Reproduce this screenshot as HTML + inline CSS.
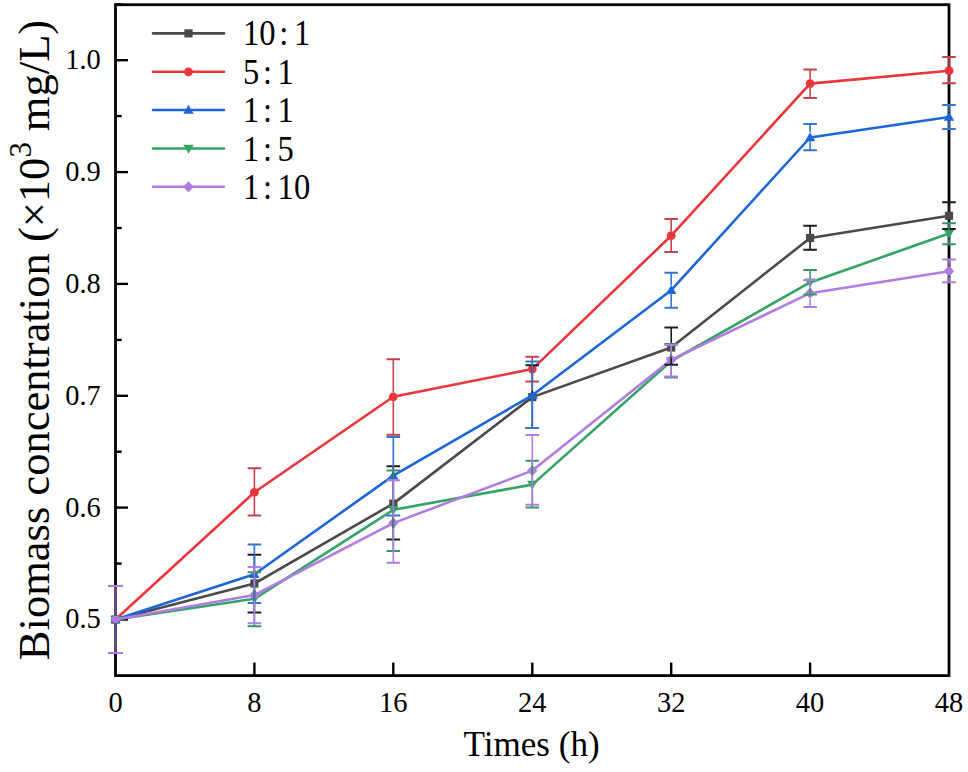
<!DOCTYPE html>
<html><head><meta charset="utf-8"><style>
html,body{margin:0;padding:0;background:#fff;}
svg{display:block;}
text{font-family:"Liberation Serif",serif;fill:#000;}
.t{font-size:30px;}
.lg{font-size:35px;}
.xt{font-size:35.1px;}
.yt{font-size:45px;}
</style></head><body>
<svg width="968" height="772" viewBox="0 0 968 772">
<rect width="968" height="772" fill="#fff"/>
<path d="M254.4,675.6V662.6" stroke="#000" stroke-width="2.4"/>
<path d="M393.3,675.6V662.6" stroke="#000" stroke-width="2.4"/>
<path d="M532.3,675.6V662.6" stroke="#000" stroke-width="2.4"/>
<path d="M671.2,675.6V662.6" stroke="#000" stroke-width="2.4"/>
<path d="M810.1,675.6V662.6" stroke="#000" stroke-width="2.4"/>
<path d="M115.5,619.5H128.0" stroke="#000" stroke-width="2.4"/>
<path d="M115.5,563.6H121.7" stroke="#000" stroke-width="2.4"/>
<path d="M115.5,507.6H128.0" stroke="#000" stroke-width="2.4"/>
<path d="M115.5,451.7H121.7" stroke="#000" stroke-width="2.4"/>
<path d="M115.5,395.8H128.0" stroke="#000" stroke-width="2.4"/>
<path d="M115.5,339.9H121.7" stroke="#000" stroke-width="2.4"/>
<path d="M115.5,283.9H128.0" stroke="#000" stroke-width="2.4"/>
<path d="M115.5,228.0H121.7" stroke="#000" stroke-width="2.4"/>
<path d="M115.5,172.1H128.0" stroke="#000" stroke-width="2.4"/>
<path d="M115.5,116.1H121.7" stroke="#000" stroke-width="2.4"/>
<path d="M115.5,60.2H128.0" stroke="#000" stroke-width="2.4"/>
<path d="M115.5,4.3H121.7" stroke="#000" stroke-width="2.4"/>
<rect x="115.5" y="4.7" width="833.5" height="670.9" fill="none" stroke="#000" stroke-width="2.8"/>
<polyline points="115.5,619.5 254.4,583.5 393.3,503.6 532.3,397.1 671.2,347.5 810.1,238.0 949.0,215.8" stroke="#4a4a4a" stroke-width="2.6" fill="none" stroke-linejoin="round"/>
<rect x="111.4" y="615.4" width="8.2" height="8.2" fill="#4a4a4a"/>
<rect x="250.3" y="579.4" width="8.2" height="8.2" fill="#4a4a4a"/>
<rect x="389.2" y="499.5" width="8.2" height="8.2" fill="#4a4a4a"/>
<rect x="528.2" y="393.0" width="8.2" height="8.2" fill="#4a4a4a"/>
<rect x="667.1" y="343.4" width="8.2" height="8.2" fill="#4a4a4a"/>
<rect x="806.0" y="233.9" width="8.2" height="8.2" fill="#4a4a4a"/>
<rect x="944.9" y="211.7" width="8.2" height="8.2" fill="#4a4a4a"/>
<polyline points="115.5,619.5 254.4,492.3 393.3,396.8 532.3,369.1 671.2,235.7 810.1,83.6 949.0,70.7" stroke="#e8363c" stroke-width="2.6" fill="none" stroke-linejoin="round"/>
<circle cx="115.5" cy="619.5" r="4.4" fill="#e8363c"/>
<circle cx="254.4" cy="492.3" r="4.4" fill="#e8363c"/>
<circle cx="393.3" cy="396.8" r="4.4" fill="#e8363c"/>
<circle cx="532.3" cy="369.1" r="4.4" fill="#e8363c"/>
<circle cx="671.2" cy="235.7" r="4.4" fill="#e8363c"/>
<circle cx="810.1" cy="83.6" r="4.4" fill="#e8363c"/>
<circle cx="949.0" cy="70.7" r="4.4" fill="#e8363c"/>
<polyline points="115.5,619.5 254.4,574.2 393.3,475.6 532.3,395.3 671.2,290.2 810.1,137.5 949.0,117.0" stroke="#1c66d8" stroke-width="2.6" fill="none" stroke-linejoin="round"/>
<path d="M115.5,614.3 L120.7,623.3 L110.3,623.3Z" fill="#1c66d8"/>
<path d="M254.4,569.0 L259.6,578.0 L249.2,578.0Z" fill="#1c66d8"/>
<path d="M393.3,470.4 L398.5,479.4 L388.1,479.4Z" fill="#1c66d8"/>
<path d="M532.3,390.1 L537.5,399.1 L527.1,399.1Z" fill="#1c66d8"/>
<path d="M671.2,285.0 L676.4,294.0 L666.0,294.0Z" fill="#1c66d8"/>
<path d="M810.1,132.3 L815.3,141.3 L804.9,141.3Z" fill="#1c66d8"/>
<path d="M949.0,111.8 L954.2,120.8 L943.8,120.8Z" fill="#1c66d8"/>
<polyline points="115.5,619.5 254.4,598.8 393.3,509.8 532.3,484.6 671.2,361.0 810.1,282.4 949.0,233.6" stroke="#33a463" stroke-width="2.6" fill="none" stroke-linejoin="round"/>
<path d="M115.5,624.7 L120.7,615.7 L110.3,615.7Z" fill="#33a463"/>
<path d="M254.4,604.0 L259.6,595.0 L249.2,595.0Z" fill="#33a463"/>
<path d="M393.3,515.0 L398.5,506.0 L388.1,506.0Z" fill="#33a463"/>
<path d="M532.3,489.8 L537.5,480.8 L527.1,480.8Z" fill="#33a463"/>
<path d="M671.2,366.2 L676.4,357.2 L666.0,357.2Z" fill="#33a463"/>
<path d="M810.1,287.6 L815.3,278.6 L804.9,278.6Z" fill="#33a463"/>
<path d="M949.0,238.8 L954.2,229.8 L943.8,229.8Z" fill="#33a463"/>
<polyline points="115.5,619.5 254.4,595.0 393.3,523.1 532.3,470.6 671.2,359.8 810.1,293.2 949.0,271.2" stroke="#b07ce2" stroke-width="2.6" fill="none" stroke-linejoin="round"/>
<path d="M115.5,613.9 L120.7,619.5 L115.5,625.1 L110.3,619.5Z" fill="#b07ce2"/>
<path d="M254.4,589.4 L259.6,595.0 L254.4,600.6 L249.2,595.0Z" fill="#b07ce2"/>
<path d="M393.3,517.5 L398.5,523.1 L393.3,528.7 L388.1,523.1Z" fill="#b07ce2"/>
<path d="M532.3,465.0 L537.5,470.6 L532.3,476.2 L527.1,470.6Z" fill="#b07ce2"/>
<path d="M671.2,354.2 L676.4,359.8 L671.2,365.4 L666.0,359.8Z" fill="#b07ce2"/>
<path d="M810.1,287.6 L815.3,293.2 L810.1,298.8 L804.9,293.2Z" fill="#b07ce2"/>
<path d="M949.0,265.6 L954.2,271.2 L949.0,276.8 L943.8,271.2Z" fill="#b07ce2"/>
<path d="M115.5,586.0V615.7M115.5,623.3V653.0" stroke="#5e4a7c" stroke-width="2.8" fill="none"/>
<path d="M108.7,586.0H122.3M108.7,653.0H122.3" stroke="#1e1e1e" stroke-width="2" fill="none"/>
<path d="M254.4,554.7V579.7M254.4,587.3V612.5" stroke="#1e1e1e" stroke-width="1.6" fill="none"/>
<path d="M247.6,554.7H261.2M247.6,612.5H261.2" stroke="#1e1e1e" stroke-width="2" fill="none"/>
<path d="M393.3,466.3V499.8M393.3,507.4V539.6" stroke="#1e1e1e" stroke-width="1.6" fill="none"/>
<path d="M386.5,466.3H400.1M386.5,539.6H400.1" stroke="#1e1e1e" stroke-width="2" fill="none"/>
<path d="M532.3,365.2V393.3M532.3,400.9V427.9" stroke="#1e1e1e" stroke-width="1.6" fill="none"/>
<path d="M525.5,365.2H539.1M525.5,427.9H539.1" stroke="#1e1e1e" stroke-width="2" fill="none"/>
<path d="M671.2,327.6V343.7M671.2,351.3V364.7" stroke="#1e1e1e" stroke-width="1.6" fill="none"/>
<path d="M664.4,327.6H678.0M664.4,364.7H678.0" stroke="#1e1e1e" stroke-width="2" fill="none"/>
<path d="M810.1,225.8V234.2M810.1,241.8V249.8" stroke="#1e1e1e" stroke-width="1.6" fill="none"/>
<path d="M803.3,225.8H816.9M803.3,249.8H816.9" stroke="#1e1e1e" stroke-width="2" fill="none"/>
<path d="M949.0,202.2V212.0M949.0,219.6V229.1" stroke="#1e1e1e" stroke-width="1.6" fill="none"/>
<path d="M942.2,202.2H955.8M942.2,229.1H955.8" stroke="#1e1e1e" stroke-width="2" fill="none"/>
<path d="M115.5,586.0V615.1M115.5,623.9V653.0" stroke="#5e4a7c" stroke-width="2.8" fill="none"/>
<path d="M108.7,586.0H122.3M108.7,653.0H122.3" stroke="#c3444c" stroke-width="2" fill="none"/>
<path d="M254.4,468.2V487.9M254.4,496.7V515.6" stroke="#c3444c" stroke-width="1.6" fill="none"/>
<path d="M247.6,468.2H261.2M247.6,515.6H261.2" stroke="#c3444c" stroke-width="2" fill="none"/>
<path d="M393.3,359.2V392.4M393.3,401.2V434.7" stroke="#c3444c" stroke-width="1.6" fill="none"/>
<path d="M386.5,359.2H400.1M386.5,434.7H400.1" stroke="#c3444c" stroke-width="2" fill="none"/>
<path d="M532.3,356.8V364.7M532.3,373.5V381.5" stroke="#c3444c" stroke-width="1.6" fill="none"/>
<path d="M525.5,356.8H539.1M525.5,381.5H539.1" stroke="#c3444c" stroke-width="2" fill="none"/>
<path d="M671.2,218.9V231.3M671.2,240.1V252.1" stroke="#c3444c" stroke-width="1.6" fill="none"/>
<path d="M664.4,218.9H678.0M664.4,252.1H678.0" stroke="#c3444c" stroke-width="2" fill="none"/>
<path d="M810.1,69.4V79.2M810.1,88.0V98.1" stroke="#c3444c" stroke-width="1.6" fill="none"/>
<path d="M803.3,69.4H816.9M803.3,98.1H816.9" stroke="#c3444c" stroke-width="2" fill="none"/>
<path d="M949.0,57.0V66.3M949.0,75.1V83.2" stroke="#c3444c" stroke-width="1.6" fill="none"/>
<path d="M942.2,57.0H955.8M942.2,83.2H955.8" stroke="#c3444c" stroke-width="2" fill="none"/>
<path d="M115.5,586.0V614.3M115.5,623.3V653.0" stroke="#5e4a7c" stroke-width="2.8" fill="none"/>
<path d="M108.7,586.0H122.3M108.7,653.0H122.3" stroke="#3575cf" stroke-width="2" fill="none"/>
<path d="M254.4,544.4V569.0M254.4,578.0V603.0" stroke="#3575cf" stroke-width="1.6" fill="none"/>
<path d="M247.6,544.4H261.2M247.6,603.0H261.2" stroke="#3575cf" stroke-width="2" fill="none"/>
<path d="M393.3,437.1V470.4M393.3,479.4V515.4" stroke="#3575cf" stroke-width="1.6" fill="none"/>
<path d="M386.5,437.1H400.1M386.5,515.4H400.1" stroke="#3575cf" stroke-width="2" fill="none"/>
<path d="M532.3,361.5V390.1M532.3,399.1V427.9" stroke="#3575cf" stroke-width="1.6" fill="none"/>
<path d="M525.5,361.5H539.1M525.5,427.9H539.1" stroke="#3575cf" stroke-width="2" fill="none"/>
<path d="M671.2,272.8V285.0M671.2,294.0V307.7" stroke="#3575cf" stroke-width="1.6" fill="none"/>
<path d="M664.4,272.8H678.0M664.4,307.7H678.0" stroke="#3575cf" stroke-width="2" fill="none"/>
<path d="M810.1,124.0V132.3M810.1,141.3V150.3" stroke="#3575cf" stroke-width="1.6" fill="none"/>
<path d="M803.3,124.0H816.9M803.3,150.3H816.9" stroke="#3575cf" stroke-width="2" fill="none"/>
<path d="M949.0,105.0V111.8M949.0,120.8V129.0" stroke="#3575cf" stroke-width="1.6" fill="none"/>
<path d="M942.2,105.0H955.8M942.2,129.0H955.8" stroke="#3575cf" stroke-width="2" fill="none"/>
<path d="M115.5,586.0V615.7M115.5,624.7V653.0" stroke="#5e4a7c" stroke-width="2.8" fill="none"/>
<path d="M108.7,586.0H122.3M108.7,653.0H122.3" stroke="#3d9565" stroke-width="2" fill="none"/>
<path d="M254.4,572.2V595.0M254.4,604.0V626.3" stroke="#3d9565" stroke-width="1.6" fill="none"/>
<path d="M247.6,572.2H261.2M247.6,626.3H261.2" stroke="#3d9565" stroke-width="2" fill="none"/>
<path d="M393.3,470.4V506.0M393.3,515.0V551.0" stroke="#3d9565" stroke-width="1.6" fill="none"/>
<path d="M386.5,470.4H400.1M386.5,551.0H400.1" stroke="#3d9565" stroke-width="2" fill="none"/>
<path d="M532.3,460.8V480.8M532.3,489.8V507.4" stroke="#3d9565" stroke-width="1.6" fill="none"/>
<path d="M525.5,460.8H539.1M525.5,507.4H539.1" stroke="#3d9565" stroke-width="2" fill="none"/>
<path d="M671.2,344.0V357.2M671.2,366.2V377.5" stroke="#3d9565" stroke-width="1.6" fill="none"/>
<path d="M664.4,344.0H678.0M664.4,377.5H678.0" stroke="#3d9565" stroke-width="2" fill="none"/>
<path d="M810.1,270.0V278.6M810.1,287.6V294.6" stroke="#3d9565" stroke-width="1.6" fill="none"/>
<path d="M803.3,270.0H816.9M803.3,294.6H816.9" stroke="#3d9565" stroke-width="2" fill="none"/>
<path d="M949.0,223.2V229.8M949.0,238.8V244.3" stroke="#3d9565" stroke-width="1.6" fill="none"/>
<path d="M942.2,223.2H955.8M942.2,244.3H955.8" stroke="#3d9565" stroke-width="2" fill="none"/>
<path d="M115.5,586.0V613.9M115.5,625.1V653.0" stroke="#5e4a7c" stroke-width="2.8" fill="none"/>
<path d="M108.7,586.0H122.3M108.7,653.0H122.3" stroke="#b07ce2" stroke-width="2" fill="none"/>
<path d="M254.4,567.0V589.4M254.4,600.6V623.3" stroke="#b07ce2" stroke-width="1.6" fill="none"/>
<path d="M247.6,567.0H261.2M247.6,623.3H261.2" stroke="#b07ce2" stroke-width="2" fill="none"/>
<path d="M393.3,480.3V517.5M393.3,528.7V562.8" stroke="#b07ce2" stroke-width="1.6" fill="none"/>
<path d="M386.5,480.3H400.1M386.5,562.8H400.1" stroke="#b07ce2" stroke-width="2" fill="none"/>
<path d="M532.3,434.9V465.0M532.3,476.2V504.8" stroke="#b07ce2" stroke-width="1.6" fill="none"/>
<path d="M525.5,434.9H539.1M525.5,504.8H539.1" stroke="#b07ce2" stroke-width="2" fill="none"/>
<path d="M671.2,345.0V354.2M671.2,365.4V376.5" stroke="#b07ce2" stroke-width="1.6" fill="none"/>
<path d="M664.4,345.0H678.0M664.4,376.5H678.0" stroke="#b07ce2" stroke-width="2" fill="none"/>
<path d="M810.1,280.0V287.6M810.1,298.8V307.0" stroke="#b07ce2" stroke-width="1.6" fill="none"/>
<path d="M803.3,280.0H816.9M803.3,307.0H816.9" stroke="#b07ce2" stroke-width="2" fill="none"/>
<path d="M949.0,259.5V265.6M949.0,276.8V282.2" stroke="#b07ce2" stroke-width="1.6" fill="none"/>
<path d="M942.2,259.5H955.8M942.2,282.2H955.8" stroke="#b07ce2" stroke-width="2" fill="none"/>
<text transform="translate(100.8,628.4) scale(0.95,1)" text-anchor="end" class="t">0.5</text>
<text transform="translate(100.8,516.5) scale(0.95,1)" text-anchor="end" class="t">0.6</text>
<text transform="translate(100.8,404.7) scale(0.95,1)" text-anchor="end" class="t">0.7</text>
<text transform="translate(100.8,292.8) scale(0.95,1)" text-anchor="end" class="t">0.8</text>
<text transform="translate(100.8,181.0) scale(0.95,1)" text-anchor="end" class="t">0.9</text>
<text transform="translate(100.8,69.1) scale(0.95,1)" text-anchor="end" class="t">1.0</text>
<text transform="translate(115.5,712.2) scale(0.95,1)" text-anchor="middle" class="t">0</text>
<text transform="translate(254.4,712.2) scale(0.95,1)" text-anchor="middle" class="t">8</text>
<text transform="translate(393.3,712.2) scale(0.95,1)" text-anchor="middle" class="t">16</text>
<text transform="translate(532.3,712.2) scale(0.95,1)" text-anchor="middle" class="t">24</text>
<text transform="translate(671.2,712.2) scale(0.95,1)" text-anchor="middle" class="t">32</text>
<text transform="translate(810.1,712.2) scale(0.95,1)" text-anchor="middle" class="t">40</text>
<text transform="translate(949.0,712.2) scale(0.95,1)" text-anchor="middle" class="t">48</text>
<path d="M153,33.4H224" stroke="#4a4a4a" stroke-width="2.6" stroke-linecap="round"/>
<rect x="184.4" y="29.3" width="8.2" height="8.2" fill="#4a4a4a"/>
<text transform="translate(243,45.4) scale(0.93,1)" class="lg">10<tspan dx="4">:</tspan><tspan dx="6">1</tspan></text>
<path d="M153,71.8H224" stroke="#e8363c" stroke-width="2.6" stroke-linecap="round"/>
<circle cx="188.5" cy="71.8" r="4.4" fill="#e8363c"/>
<text transform="translate(243,83.8) scale(0.93,1)" class="lg">5<tspan dx="4">:</tspan><tspan dx="6">1</tspan></text>
<path d="M153,110H224" stroke="#1c66d8" stroke-width="2.6" stroke-linecap="round"/>
<path d="M188.5,104.8 L193.7,113.8 L183.3,113.8Z" fill="#1c66d8"/>
<text transform="translate(243,122.0) scale(0.93,1)" class="lg">1<tspan dx="4">:</tspan><tspan dx="6">1</tspan></text>
<path d="M153,148.5H224" stroke="#33a463" stroke-width="2.6" stroke-linecap="round"/>
<path d="M188.5,153.7 L193.7,144.7 L183.3,144.7Z" fill="#33a463"/>
<text transform="translate(243,160.5) scale(0.93,1)" class="lg">1<tspan dx="4">:</tspan><tspan dx="6">5</tspan></text>
<path d="M153,186.8H224" stroke="#b07ce2" stroke-width="2.6" stroke-linecap="round"/>
<path d="M188.5,181.2 L193.7,186.8 L188.5,192.4 L183.3,186.8Z" fill="#b07ce2"/>
<text transform="translate(243,198.8) scale(0.93,1)" class="lg">1<tspan dx="4">:</tspan><tspan dx="6">10</tspan></text>
<text x="531.6" y="756" text-anchor="middle" class="xt">Times (h)</text>
<text transform="translate(49,660.2) rotate(-90) scale(0.99,1)" class="yt">Biomass concentration (×10<tspan dy="-18" font-size="31">3</tspan><tspan dy="18"> mg/L)</tspan></text>
</svg>
</body></html>
